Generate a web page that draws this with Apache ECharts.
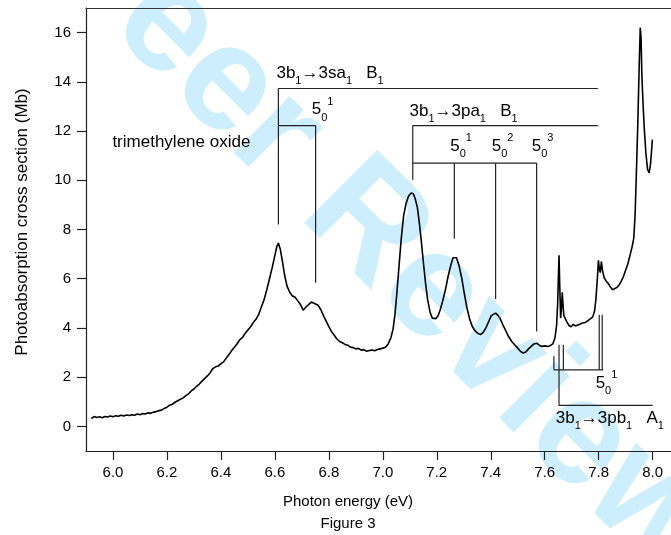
<!DOCTYPE html>
<html>
<head>
<meta charset="utf-8">
<script src="https://cdn.jsdelivr.net/npm/echarts@6/dist/echarts.min.js"></script>
<style>
  html, body { margin: 0; padding: 0; background: #fff; }
  #chart { width: 671px; height: 535px; }
</style>
</head>
<body>
<div id="chart"></div>
<script>
// photon energy (eV) and photoabsorption cross section (Mb)
const energy = [
  5.920, 5.930, 5.940, 5.950, 5.960, 5.970, 5.980, 5.990, 6.000, 6.010, 6.020, 6.030, 6.040, 6.050, 6.060,
  6.070, 6.080, 6.090, 6.100, 6.110, 6.120, 6.130, 6.140, 6.150, 6.160, 6.170, 6.180, 6.190, 6.200, 6.210,
  6.220, 6.230, 6.240, 6.250, 6.260, 6.270, 6.280, 6.290, 6.300, 6.310, 6.320, 6.330, 6.340, 6.350, 6.360,
  6.370, 6.380, 6.390, 6.400, 6.410, 6.420, 6.430, 6.440, 6.450, 6.460, 6.470, 6.480, 6.490, 6.500, 6.510,
  6.520, 6.530, 6.540, 6.550, 6.560, 6.570, 6.580, 6.590, 6.600, 6.607, 6.613, 6.620, 6.628, 6.636, 6.645,
  6.655, 6.665, 6.675, 6.685, 6.695, 6.705, 6.715, 6.725, 6.735, 6.745, 6.752, 6.760, 6.770, 6.780, 6.790,
  6.800, 6.810, 6.820, 6.830, 6.840, 6.850, 6.860, 6.870, 6.880, 6.890, 6.900, 6.910, 6.920, 6.930, 6.940,
  6.950, 6.960, 6.970, 6.980, 6.990, 7.000, 7.010, 7.020, 7.030, 7.038, 7.045, 7.052, 7.060, 7.068, 7.077,
  7.086, 7.095, 7.105, 7.113, 7.120, 7.128, 7.135, 7.142, 7.150, 7.158, 7.166, 7.175, 7.183, 7.190, 7.197,
  7.205, 7.213, 7.222, 7.232, 7.242, 7.252, 7.260, 7.266, 7.273, 7.282, 7.292, 7.302, 7.312, 7.322, 7.332,
  7.342, 7.352, 7.362, 7.372, 7.382, 7.392, 7.402, 7.410, 7.418, 7.426, 7.434, 7.444, 7.455, 7.466, 7.478,
  7.490, 7.500, 7.510, 7.520, 7.530, 7.540, 7.550, 7.560, 7.570, 7.580, 7.590, 7.600, 7.610, 7.620, 7.630,
  7.638, 7.644, 7.648, 7.651, 7.653, 7.656, 7.659, 7.662, 7.665, 7.668, 7.671, 7.676, 7.682, 7.690, 7.698,
  7.706, 7.714, 7.722, 7.730, 7.740, 7.750, 7.760, 7.770, 7.778, 7.785, 7.790, 7.795, 7.799, 7.803, 7.806,
  7.810, 7.814, 7.820, 7.828, 7.836, 7.844, 7.852, 7.860, 7.868, 7.876, 7.884, 7.892, 7.900, 7.908, 7.916,
  7.924, 7.930, 7.935, 7.940, 7.945, 7.950, 7.954, 7.957, 7.960, 7.964, 7.969, 7.975, 7.981, 7.987, 7.992,
  7.996, 7.999
];
const crossSection = [
  0.32, 0.40, 0.36, 0.39, 0.35, 0.40, 0.38, 0.42, 0.39, 0.43, 0.41, 0.45, 0.42, 0.46, 0.44,
  0.47, 0.45, 0.50, 0.47, 0.52, 0.50, 0.55, 0.53, 0.58, 0.60, 0.64, 0.66, 0.73, 0.78, 0.86,
  0.90, 0.98, 1.04, 1.10, 1.16, 1.25, 1.32, 1.44, 1.52, 1.63, 1.72, 1.84, 1.95, 2.05, 2.18,
  2.35, 2.42, 2.45, 2.55, 2.62, 2.78, 2.92, 3.08, 3.22, 3.36, 3.52, 3.62, 3.78, 3.92, 4.05,
  4.22, 4.35, 4.55, 4.85, 5.15, 5.55, 6.00, 6.45, 6.95, 7.30, 7.45, 7.20, 6.70, 6.15, 5.70,
  5.45, 5.30, 5.25, 5.10, 4.95, 4.72, 4.85, 4.95, 5.05, 5.00, 5.06, 4.92, 4.75, 4.50, 4.28,
  4.05, 3.85, 3.70, 3.55, 3.45, 3.40, 3.33, 3.30, 3.22, 3.20, 3.15, 3.17, 3.10, 3.12, 3.05,
  3.08, 3.10, 3.07, 3.12, 3.15, 3.18, 3.22, 3.35, 3.60, 3.95, 4.55, 5.40, 6.50, 7.60, 8.55,
  9.05, 9.35, 9.48, 9.45, 9.25, 8.90, 8.30, 7.60, 6.70, 5.85, 5.15, 4.65, 4.40, 4.33, 4.38,
  4.50, 4.75, 5.10, 5.55, 6.10, 6.55, 6.85, 6.93, 6.85, 6.55, 6.05, 5.40, 4.80, 4.35, 4.05,
  3.88, 3.78, 3.73, 3.82, 4.00, 4.25, 4.50, 4.55, 4.60, 4.52, 4.40, 4.15, 3.90, 3.65, 3.45,
  3.30, 3.18, 3.05, 2.98, 3.02, 3.15, 3.25, 3.35, 3.38, 3.30, 3.25, 3.27, 3.25, 3.28, 3.35,
  3.60, 4.10, 5.00, 6.20, 6.95, 5.60, 4.40, 4.80, 5.45, 4.90, 4.50, 4.42, 4.25, 4.10, 4.05,
  4.15, 4.08, 4.12, 4.15, 4.20, 4.22, 4.30, 4.38, 4.45, 4.70, 5.20, 6.00, 6.75, 6.35, 6.25,
  6.70, 6.35, 6.05, 5.90, 5.80, 5.65, 5.55, 5.60, 5.65, 5.75, 5.90, 6.10, 6.35, 6.60, 6.95,
  7.30, 7.65, 8.60, 10.40, 12.30, 14.60, 16.20, 15.80, 14.30, 13.20, 12.10, 11.10, 10.45, 10.30, 10.65,
  11.20, 11.65
];

const xTicks = [6.0, 6.2, 6.4, 6.6, 6.8, 7.0, 7.2, 7.4, 7.6, 7.8, 8.0];
const yTicks = [0, 2, 4, 6, 8, 10, 12, 14, 16];

// assignment brackets, polylines in (eV, Mb)
const sa1Origin = [[6.613, 8.2], [6.613, 13.73], [7.797, 13.73]];
const sa1Prog = [[6.613, 12.22], [6.751, 12.22], [6.751, 5.84]];
const pa1Origin = [[7.111, 10.02], [7.111, 12.22], [7.797, 12.22]];
const pa1Prog = [[7.111, 10.7], [7.570, 10.7]];
const pa1Drops = [[7.265, 7.62], [7.418, 5.18], [7.570, 3.86]];      // hang down from the 10.7 line
const pb1Origin = [[7.653, 3.32], [7.653, 0.85], [8.0, 0.85]];
const pb1Prog = [[7.634, 2.30], [7.817, 2.30]];
const pb1Rises = [[7.634, 2.85], [7.669, 3.32], [7.802, 4.54], [7.813, 4.54]]; // rise from the 2.30 line

// annotation texts and where they sit (left edge, middle) in (eV, Mb)
const labelText = [
  '{n|3b}{s|1}{n|→3sa}{s|1}{n|   B}{s|1}',
  '{n|5}{s|0}{u|1}',
  '{n|3b}{s|1}{n|→3pa}{s|1}{n|   B}{s|1}',
  '{n|5}{s|0}{u|1}',
  '{n|5}{s|0}{u|2}',
  '{n|5}{s|0}{u|3}',
  '{n|5}{s|0}{u|1}',
  '{n|3b}{s|1}{n|→3pb}{s|1}{n|   A}{s|1}',
  '{n|trimethylene oxide}'
];
const labelPos = [
  [6.606, 14.34], [6.737, 12.87], [7.099, 12.80], [7.250, 11.38], [7.404, 11.38],
  [7.552, 11.38], [7.789, 1.76], [7.641, 0.34], [5.998, 11.53]
];

const FONT = '"Liberation Sans", Arial, sans-serif';
const INK = '#000';

const chart = echarts.init(document.getElementById('chart'), null, { renderer: 'canvas' });

function pathSeries(points) {
  return {
    type: 'line',
    data: points,
    showSymbol: false,
    silent: true,
    lineStyle: { color: '#222', width: 1.2 },
    z: 3
  };
}

const paths = [sa1Origin, sa1Prog, pa1Origin, pa1Prog, pb1Origin, pb1Prog];
pa1Drops.forEach(function (p) { paths.push([[p[0], 10.7], p]); });
pb1Rises.forEach(function (p) { paths.push([[p[0], 2.30], p]); });

// rich text styles for the assignment labels
const plain = { fontSize: 17, fontFamily: FONT, color: INK, textBorderWidth: 0 };
const sub = { fontSize: 11, fontFamily: FONT, color: INK, textBorderWidth: 0, padding: [16, 0, 0, 0] };
const sup = { fontSize: 11, fontFamily: FONT, color: INK, textBorderWidth: 0, padding: [0, 0, 16, 0] };

const option = {
  backgroundColor: '#fff',
  animation: false,
  grid: { left: 86, top: 8, right: 0, bottom: 84 },
  xAxis: [
    {
      type: 'value',
      min: 5.9,
      max: 8.068,
      axisLine: { show: true, onZero: false, lineStyle: { color: '#222', width: 1.2 } },
      axisTick: { show: true, customValues: xTicks, length: 9, lineStyle: { color: '#222', width: 1.2 } },
      axisLabel: {
        customValues: xTicks,
        formatter: function (v) { return v.toFixed(1); },
        color: INK, fontSize: 15, fontFamily: FONT, margin: 14
      },
      splitLine: { show: false }
    },
    {
      type: 'value',
      position: 'top',
      min: 5.9,
      max: 8.068,
      axisLine: { show: true, onZero: false, lineStyle: { color: '#333', width: 1.2 } },
      axisTick: { show: false },
      axisLabel: { show: false },
      splitLine: { show: false }
    }
  ],
  yAxis: {
    type: 'value',
    min: -1,
    max: 17,
    axisLine: { show: true, onZero: false, lineStyle: { color: '#222', width: 1.2 } },
    axisTick: { show: true, customValues: yTicks, length: 9, lineStyle: { color: '#222', width: 1.2 } },
    axisLabel: { customValues: yTicks, color: INK, fontSize: 15, fontFamily: FONT, margin: 15 },
    splitLine: { show: false }
  },
  graphic: [
    {
      type: 'text', z: -10, silent: true,
      x: 692, y: 552, rotation: -Math.PI / 4,
      style: {
        text: 'For Peer Review', fill: '#cdeefc', font: 'bold 150px ' + FONT,
        align: 'right', verticalAlign: 'middle'
      }
    },
    {
      type: 'text', x: 348, y: 502,
      style: { text: 'Photon energy (eV)', fill: INK, font: '15px ' + FONT, align: 'center', verticalAlign: 'middle' }
    },
    {
      type: 'text', x: 348, y: 524,
      style: { text: 'Figure 3', fill: INK, font: '15px ' + FONT, align: 'center', verticalAlign: 'middle' }
    },
    {
      type: 'text', x: 22, y: 222, rotation: Math.PI / 2,
      style: { text: 'Photoabsorption cross section (Mb)', fill: INK, font: '17px ' + FONT, align: 'center', verticalAlign: 'middle' }
    }
  ],
  series: [
    {
      type: 'line',
      data: energy.map(function (e, i) { return [e, crossSection[i]]; }),
      showSymbol: false,
      lineStyle: { color: '#000', width: 1.6 },
      z: 4
    }
  ].concat(paths.map(pathSeries)).concat([
    {
      type: 'scatter',
      symbolSize: 0.1,
      itemStyle: { color: 'transparent' },
      silent: true,
      z: 5,
      data: labelPos.map(function (p, i) {
        return { value: p, label: { formatter: labelText[i] } };
      }),
      label: {
        show: true,
        position: [0, 0],
        align: 'left',
        verticalAlign: 'middle',
        color: INK,
        opacity: 1,
        textBorderWidth: 0,
        rich: { n: plain, s: sub, u: sup }
      }
    }
  ])
};

chart.setOption(option);
</script>
</body>
</html>
